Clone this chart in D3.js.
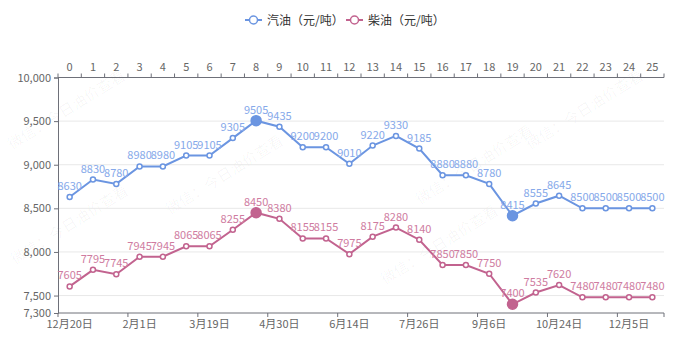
<!DOCTYPE html>
<html><head><meta charset="utf-8">
<script src="https://cdn.jsdelivr.net/npm/d3@7"></script>
<style>body{margin:0;background:#fff;}svg{display:block;font-family:"Noto Sans CJK SC","Noto Sans",sans-serif;}</style>
</head><body>
<svg id="c" width="685" height="356"></svg>
<script>
const indices = d3.range(26);
const dateLabels = ["12月20日","","","2月1日","","","3月19日","","","4月30日","","","6月14日","","","7月26日","","","9月6日","","","10月24日","","","12月5日",""];
const gasoline = [8630,8830,8780,8980,8980,9105,9105,9305,9505,9435,9200,9200,9010,9220,9330,9185,8880,8880,8780,8415,8555,8645,8500,8500,8500,8500];
const diesel = [7605,7795,7745,7945,7945,8065,8065,8255,8450,8380,8155,8155,7975,8175,8280,8140,7850,7850,7750,7400,7535,7620,7480,7480,7480,7480];
const yTicks = [7300,7500,8000,8500,9000,9500,10000];
const seriesNames = ["汽油（元/吨）","柴油（元/吨）"];
const colors = {line:["#6b95e1","#c2638f"], label:["#86a9ea","#cf7ca1"]};

const svg = d3.select("#c");
const L=58,R=664,T=77.5,B=313;
const x = d3.scaleBand().domain(indices).range([L,R]);
const cx = i => x(i)+x.bandwidth()/2;
const y = d3.scaleLinear().domain([7300,10000]).range([B,T]);

// watermark
const wm = svg.append("g").attr("fill","rgba(0,0,0,0.04)").attr("font-size",15);
[[12,150],[15,265],[170,215],[385,285],[420,205],[530,150]].forEach(([a,b])=>{
  wm.append("text").attr("transform",`translate(${a},${b}) rotate(-32)`).text("微信：今日油价查看");
});

// grid
svg.append("g").selectAll("line").data(yTicks.filter(t=>t!==7300&&t!==10000)).join("line")
  .attr("x1",L).attr("x2",R).attr("y1",d=>y(d)).attr("y2",d=>y(d)).attr("stroke","#e8e8e8");

// left axis
const yA = svg.append("g").attr("transform",`translate(${L},0)`)
  .call(d3.axisLeft(y).tickValues(yTicks).tickSize(4).tickPadding(3).tickFormat(d3.format(",")));
yA.select(".domain").attr("stroke","#6e7079");
yA.selectAll(".tick line").attr("stroke","#6e7079");
yA.selectAll("text").attr("fill","#666").attr("font-size",11).attr("font-family","Noto Sans CJK SC");

// top axis
const topG = svg.append("g").attr("transform",`translate(0,${T})`);
topG.append("line").attr("x1",L).attr("x2",R).attr("stroke","#6e7079");
topG.selectAll(".tk").data(d3.range(27)).join("line").attr("class","tk")
  .attr("x1",i=>L+i*x.step()).attr("x2",i=>L+i*x.step()).attr("y1",0).attr("y2",-4).attr("stroke","#6e7079");
topG.selectAll("text").data(indices).join("text").attr("x",cx).attr("y",-7)
  .attr("text-anchor","middle").attr("fill","#666").attr("font-size",11).text(d=>d);

// bottom axis
const botG = svg.append("g").attr("transform",`translate(0,${B})`);
botG.append("line").attr("x1",L).attr("x2",R).attr("stroke","#6e7079");
const tickIdx = indices.filter(i=>dateLabels[i]!=="");
botG.selectAll(".tk").data(tickIdx.concat([26])).join("line").attr("class","tk")
  .attr("x1",i=>L+i*x.step()).attr("x2",i=>L+i*x.step()).attr("y1",0).attr("y2",4).attr("stroke","#6e7079");
botG.selectAll("text").data(tickIdx).join("text").attr("x",cx).attr("y",15)
  .attr("text-anchor","middle").attr("fill","#666").attr("font-size",11).text(i=>dateLabels[i]);

// series
[gasoline,diesel].forEach((vals,s)=>{
  const g = svg.append("g");
  const line = d3.line().x((d,i)=>cx(i)).y(d=>y(d));
  g.append("path").datum(vals).attr("d",line).attr("fill","none").attr("stroke",colors.line[s]).attr("stroke-width",2);
  const mx = d3.maxIndex(vals), mn = d3.minIndex(vals);
  g.selectAll("circle").data(vals).join("circle")
    .attr("cx",(d,i)=>cx(i)).attr("cy",d=>y(d))
    .attr("r",(d,i)=>(i===mx||i===mn)?5:2.5)
    .attr("fill",(d,i)=>(i===mx||i===mn)?colors.line[s]:"#fff")
    .attr("stroke",colors.line[s]).attr("stroke-width",1.5);
  g.selectAll("text").data(vals).join("text")
    .attr("x",(d,i)=>cx(i)).attr("y",d=>y(d)-7)
    .attr("text-anchor","middle").attr("fill",colors.label[s]).attr("font-size",11).text(d=>d);
});

// legend
const leg = svg.append("g").attr("font-size",12);
[[245,0],[346,1]].forEach(([lx,s])=>{
  leg.append("line").attr("x1",lx).attr("x2",lx+17).attr("y1",20).attr("y2",20).attr("stroke",colors.line[s]).attr("stroke-width",2);
  leg.append("circle").attr("cx",lx+8.5).attr("cy",20).attr("r",4).attr("fill","#fff").attr("stroke",colors.line[s]).attr("stroke-width",1.5);
  leg.append("text").attr("x",lx+22).attr("y",24.5).attr("fill","#333").text(seriesNames[s]);
});
</script>
</body></html>
